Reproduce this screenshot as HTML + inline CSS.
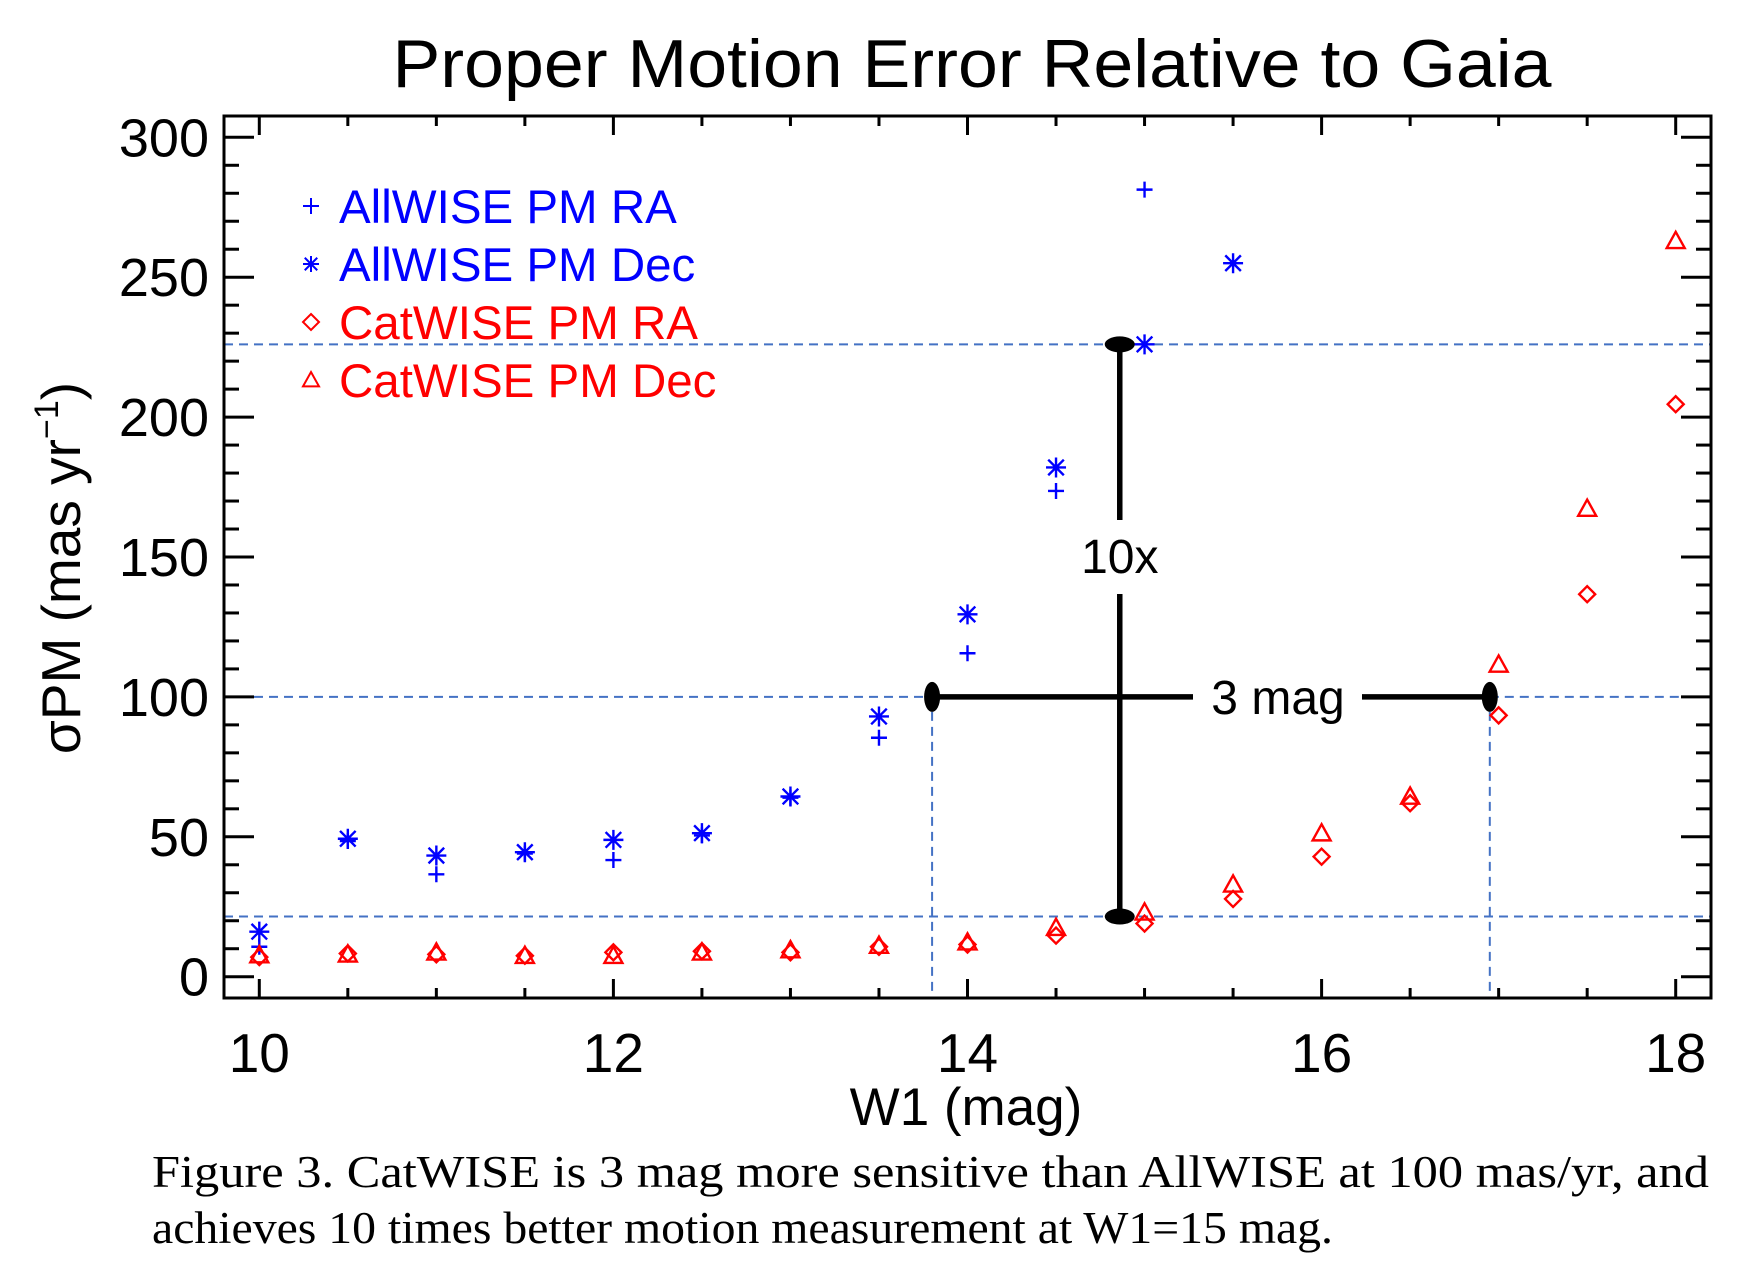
<!DOCTYPE html>
<html><head><meta charset="utf-8"><style>
html,body{margin:0;padding:0;background:#fff;}
svg{display:block;}
</style></head><body>
<svg id="chart" width="1740" height="1282" viewBox="0 0 1740 1282" xmlns="http://www.w3.org/2000/svg" font-family="'Liberation Sans', sans-serif">
<rect width="1740" height="1282" fill="#fff"/>
<text x="972" y="87" font-size="68" text-anchor="middle" textLength="1159" lengthAdjust="spacingAndGlyphs">Proper Motion Error Relative to Gaia</text>
<g id="grid"></g><g id="axes"></g><g id="marks"></g><g id="annot"></g>
<text x="966" y="1125" font-size="53" text-anchor="middle">W1 (mag)</text>
<text transform="translate(80,568) rotate(-90)" font-size="55" text-anchor="middle">σPM (mas yr<tspan dy="-22" font-size="34">−1</tspan><tspan dy="22">)</tspan></text>
<g font-size="47.5">
<text x="339" y="223" fill="#0000ff">AllWISE PM RA</text>
<text x="339" y="281" fill="#0000ff">AllWISE PM Dec</text>
<text x="339" y="339" fill="#ff0000">CatWISE PM RA</text>
<text x="339" y="397" fill="#ff0000">CatWISE PM Dec</text>
</g>
<g font-family="'Liberation Serif', serif" font-size="45">
<text x="152" y="1187" textLength="1557" lengthAdjust="spacingAndGlyphs">Figure 3. CatWISE is 3 mag more sensitive than AllWISE at 100 mas/yr, and</text>
<text x="152" y="1243" textLength="1181" lengthAdjust="spacingAndGlyphs">achieves 10 times better motion measurement at W1=15 mag.</text>
</g>
</svg>
<script>
const magsA = [10,10.5,11,11.5,12,12.5,13,13.5,14,14.5,15];
const allwiseRA = [10.7,48.5,36.6,44,41.7,50.5,64,85.4,115.6,173.6,281.3];
const magsAD = [10,10.5,11,11.5,12,12.5,13,13.5,14,14.5,15,15.5];
const allwiseDec = [16.1,49.3,43.3,44.5,48.9,51.3,64.4,93,129.5,182,226,255];
const magsC = [10,10.5,11,11.5,12,12.5,13,13.5,14,14.5,15,15.5,16,16.5,17,17.5,18];
const catwiseRA = [7,8.3,8,7.5,8.7,9.1,8.7,10.7,11.5,14.7,19,27.8,42.9,62,93.4,136.7,204.6];
const catwiseDec = [7.7,8,8.7,7.5,7.5,8.7,9.5,11.1,12.3,17.5,23,33,51.3,64.4,111.6,167.3,263];
const xTicks = [10,12,14,16,18];
const yTicks = [0,50,100,150,200,250,300];
const hRefs = [226,21.5];
const vRefs = [13.8,16.95];

const NS="http://www.w3.org/2000/svg";
const L=224,R=1711,T=116,B=998;
const X=v=>259.3+(v-10)*177.05;
const Y=v=>976.7-v*2.798;
function mk(tag,attrs,parent){const e=document.createElementNS(NS,tag);for(const k in attrs)e.setAttribute(k,attrs[k]);parent.appendChild(e);return e;}
const grid=document.getElementById('grid'),axes=document.getElementById('axes'),marks=document.getElementById('marks'),annot=document.getElementById('annot');
const dash={stroke:'#4472c4','stroke-width':2,'stroke-dasharray':'9,6',fill:'none'};
hRefs.forEach(v=>{const l=mk('line',Object.assign({x1:L,x2:R,y1:Y(v),y2:Y(v)},dash),grid);

});
const h1=mk('line',Object.assign({x1:L,x2:X(vRefs[0]),y1:Y(100),y2:Y(100)},dash),grid);


const h2=mk('line',Object.assign({x1:X(vRefs[1]),x2:R,y1:Y(100),y2:Y(100)},dash),grid);


vRefs.forEach(v=>{const l=mk('line',Object.assign({x1:X(v),x2:X(v),y1:Y(100),y2:B},dash),grid);

});
const frame=mk('rect',{x:L,y:T,width:R-L,height:B-T,fill:'none',stroke:'#000','stroke-width':3},axes);


const tk={stroke:'#000','stroke-width':3};
for(let m=10;m<=18.001;m+=0.5){const major=Math.abs(m-Math.round(m/2)*2)<1e-6;const len=major?19:10;
mk('line',Object.assign({x1:X(m),x2:X(m),y1:B,y2:B-len},tk),axes);
mk('line',Object.assign({x1:X(m),x2:X(m),y1:T,y2:T+len},tk),axes);}
for(let v=0;v<=300;v+=10){const major=v%50===0;const len=major?30:15;
mk('line',Object.assign({x1:L,x2:L+len,y1:Y(v),y2:Y(v)},tk),axes);
mk('line',Object.assign({x1:R,x2:R-len,y1:Y(v),y2:Y(v)},tk),axes);}
xTicks.forEach(v=>{const t=mk('text',{x:X(v),y:1072,'font-size':55,'text-anchor':'middle'},axes);t.textContent=v;

});
yTicks.forEach(v=>{const t=mk('text',{x:209,y:Y(v)+19,'font-size':54,'text-anchor':'end'},axes);t.textContent=v;

});
function plus(x,y,s){return `M${x-s} ${y}H${x+s}M${x} ${y-s}V${y+s}`;}
function star(x,y,s){const d=s*0.78;return `M${x-s} ${y}H${x+s}M${x} ${y-s}V${y+s}M${x-d} ${y-d}L${x+d} ${y+d}M${x-d} ${y+d}L${x+d} ${y-d}`;}
function diam(x,y,s){return `M${x} ${y-s}L${x+s} ${y}L${x} ${y+s}L${x-s} ${y}Z`;}
function tri(x,y,s){return `M${x} ${y-s}L${x+s} ${y+s*0.8}L${x-s} ${y+s*0.8}Z`;}
function series(xs,ys,fn,color,name,s){xs.forEach((m,i)=>{const p=mk('path',{d:fn(X(m),Y(ys[i]),s),stroke:color,'stroke-width':2.4,fill:'none'},marks);

});}
series(magsA,allwiseRA,plus,'#0000ff','allwise-ra-point',8);
series(magsAD,allwiseDec,star,'#0000ff','allwise-dec-point',10);
series(magsC,catwiseRA,diam,'#ff0000','catwise-ra-point',8);
series(magsC,catwiseDec,tri,'#ff0000','catwise-dec-point',9);
[[plus,'#0000ff',206],[star,'#0000ff',264],[diam,'#ff0000',322],[tri,'#ff0000',380]].forEach(a=>{const p=mk('path',{d:a[0](311,a[2],8),stroke:a[1],'stroke-width':2,fill:'none'},marks);

});
const bx=X(14.86), by=Y(100);
const bl={stroke:'#000','stroke-width':5.5};
mk('line',Object.assign({x1:bx,x2:bx,y1:Y(226),y2:520},bl),annot);
mk('line',Object.assign({x1:bx,x2:bx,y1:594,y2:Y(21.5)},bl),annot);
mk('line',Object.assign({x1:X(13.8),x2:1193,y1:by,y2:by},bl),annot);
mk('line',Object.assign({x1:1362,x2:X(16.95),y1:by,y2:by},bl),annot);
mk('ellipse',{cx:bx,cy:Y(226),rx:15,ry:8,fill:'#000'},annot);
mk('ellipse',{cx:bx,cy:Y(21.5),rx:15,ry:8,fill:'#000'},annot);
mk('ellipse',{cx:X(13.8),cy:by,rx:8,ry:15,fill:'#000'},annot);
mk('ellipse',{cx:X(16.95),cy:by,rx:8,ry:15,fill:'#000'},annot);
const t1=mk('text',{x:bx,y:573,'font-size':48,'text-anchor':'middle'},annot);t1.textContent='10x';


const t2=mk('text',{x:1278,y:714,'font-size':48,'text-anchor':'middle'},annot);t2.textContent='3 mag';


</script>
</body></html>
